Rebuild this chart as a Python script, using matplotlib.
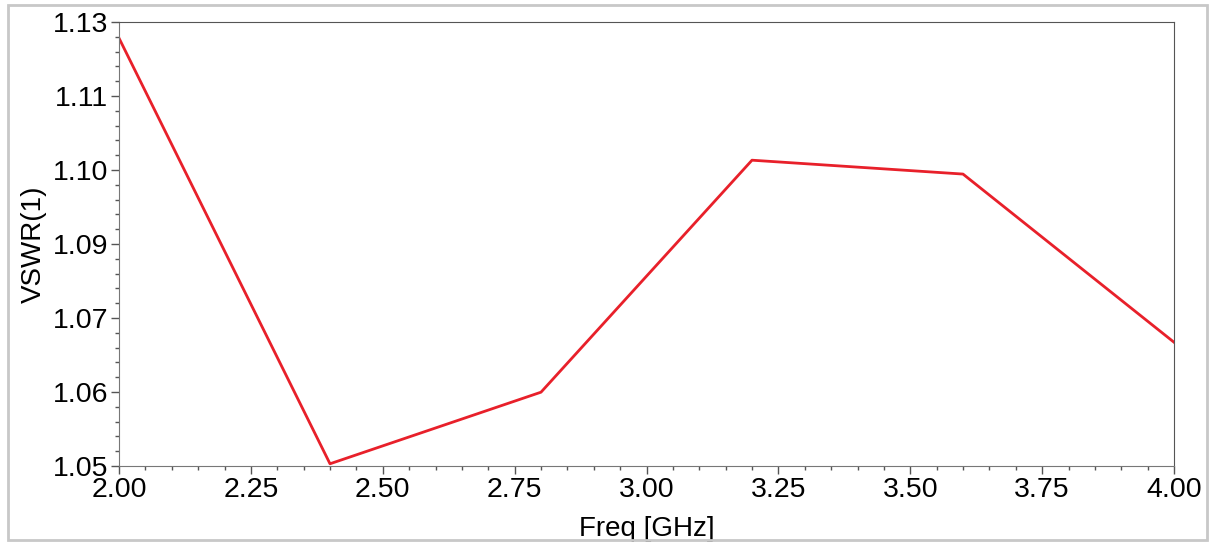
import numpy as np
import matplotlib
matplotlib.use("Agg")
import matplotlib.pyplot as plt
from matplotlib.patches import Rectangle
from matplotlib.ticker import AutoMinorLocator

# Sweep data
freq = [2.0, 2.4, 2.8, 3.2, 3.6, 4.0]
vswr = [1.1271, 1.0504, 1.0633, 1.1051, 1.1026, 1.0723]

x_ticks = [2.00, 2.25, 2.50, 2.75, 3.00, 3.25, 3.50, 3.75, 4.00]
y_labels = ["1.05", "1.06", "1.07", "1.09", "1.10", "1.11", "1.13"]

plt.rcParams['font.family'] = ['Liberation Sans', 'DejaVu Sans']

fig = plt.figure(figsize=(12.14, 5.43), dpi=100)
W, H = 1214, 543
ax = fig.add_axes([119 / W, 1 - 466 / H, (1174 - 119) / W, (466 - 22) / H])

# Outer grey frame
fig.patches.append(Rectangle((8 / W, 3 / H), (1207 - 8) / W, (538 - 3) / H,
                             transform=fig.transFigure, fill=False,
                             edgecolor='#c8c8c8', linewidth=2, zorder=10))

ax.plot(freq, vswr, color='#e8202a', linewidth=2)

ax.set_xlim(2.0, 4.0)
ax.set_ylim(1.05, 1.13)
ax.set_xticks(x_ticks)
ax.set_xticklabels([f"{t:.2f}" for t in x_ticks])
ax.set_yticks(np.linspace(1.05, 1.13, len(y_labels)))
ax.set_yticklabels(y_labels)
ax.xaxis.set_minor_locator(AutoMinorLocator(5))
ax.yaxis.set_minor_locator(AutoMinorLocator(5))

ax.tick_params(which='major', direction='out', length=6, width=1, color='#555555',
               labelsize=20.5)
ax.tick_params(which='minor', direction='out', length=3, width=1, color='#555555')
ax.tick_params(axis='x', which='major', pad=2)
ax.tick_params(axis='y', which='major', pad=2)

for side in ['left', 'bottom']:
    ax.spines[side].set_color('#777777')
for side in ['top', 'right']:
    ax.spines[side].set_color('#555555')

ax.set_xlabel("Freq [GHz]", fontsize=20, labelpad=9)
ax.set_ylabel("VSWR(1)", fontsize=20, labelpad=4)

fig.savefig("out.png", dpi=100)
